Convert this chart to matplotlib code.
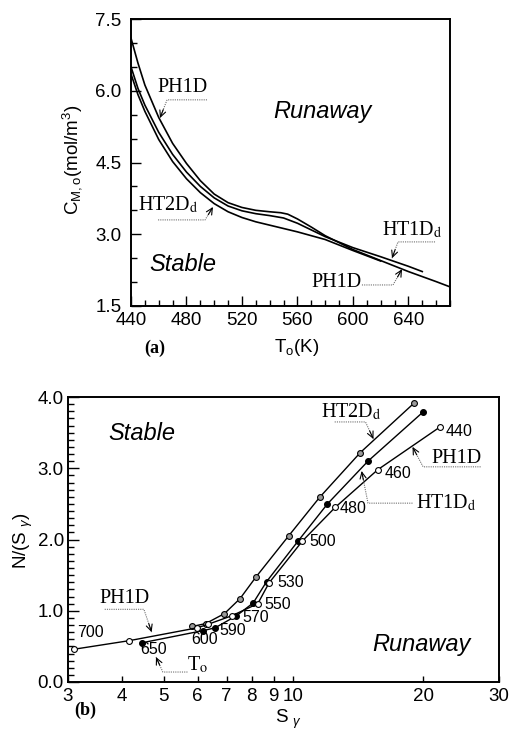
import numpy as np
import matplotlib
matplotlib.use("Agg")
import matplotlib.pyplot as plt
from matplotlib.ticker import MultipleLocator, FixedLocator, FixedFormatter, NullLocator

plt.rcParams["font.family"] = ["Liberation Sans", "DejaVu Sans"]
plt.rcParams["mathtext.fontset"] = "custom"
plt.rcParams["mathtext.rm"] = "Liberation Sans"
plt.rcParams["mathtext.it"] = "Liberation Sans:italic"
plt.rcParams["mathtext.bf"] = "Liberation Sans:bold"

# ---- (a) critical monomer feed concentration vs. inlet temperature ----
T_ph1d = [440, 445, 450, 460, 470, 480, 490, 500, 510, 520, 530, 540, 548, 553, 560, 570, 580,
          600, 620, 640, 660, 670]
C_ph1d = [7.10, 6.58, 6.12, 5.44, 4.90, 4.48, 4.12, 3.84, 3.66, 3.56, 3.50, 3.47, 3.45, 3.42,
          3.32, 3.15, 2.97, 2.68, 2.45, 2.22, 2.01, 1.90]

T_ht1d = [440, 445, 450, 460, 470, 480, 490, 500, 510, 520, 530, 540, 550, 560, 570, 580, 600,
          620, 640, 650]
C_ht1d = [6.50, 6.05, 5.70, 5.13, 4.67, 4.30, 4.00, 3.76, 3.59, 3.49, 3.43, 3.39, 3.34, 3.23,
          3.09, 2.95, 2.72, 2.53, 2.33, 2.22]

T_ht2d = [440, 445, 450, 460, 470, 480, 490, 500, 510, 520, 530, 540, 550, 560, 570, 580, 600, 620]
C_ht2d = [6.35, 5.92, 5.57, 4.98, 4.52, 4.16, 3.87, 3.64, 3.47, 3.35, 3.26, 3.19, 3.12, 3.05,
          2.97, 2.89, 2.66, 2.44]

# ---- (b) N/(S gamma) vs S gamma, points labelled by inlet temperature ----
To_ph1d = [440, 460, 480, 500, 530, 550, 570, 590, 600, 650, 700]
S_ph1d = [21.9, 15.7, 12.5, 10.5, 8.78, 8.27, 7.20, 6.34, 5.98, 4.16, 3.10]
N_ph1d = [3.58, 2.98, 2.45, 1.98, 1.39, 1.10, 0.93, 0.81, 0.76, 0.58, 0.46]

To_ht2d = [440, 460, 480, 500, 530, 550, 570, 590, 600]
S_ht2d = [19.1, 14.3, 11.5, 9.75, 8.18, 7.52, 6.92, 6.26, 5.83]
N_ht2d = [3.92, 3.22, 2.59, 2.05, 1.47, 1.17, 0.96, 0.82, 0.78]

To_ht1d = [440, 460, 480, 500, 530, 550, 570, 590, 600, 650]
S_ht1d = [20.0, 14.9, 12.0, 10.26, 8.67, 8.07, 7.38, 6.58, 6.16, 4.45]
N_ht1d = [3.79, 3.10, 2.50, 1.98, 1.41, 1.11, 0.93, 0.76, 0.72, 0.55]

# temperature tags written beside the curves in (b)
tag_text = ["440", "460", "480", "500", "530", "550", "570", "590", "600", "650", "700"]
tag_S = [22.6, 16.3, 12.8, 10.9, 9.18, 8.55, 7.60, 6.75, 5.80, 4.41, 3.15]
tag_N = [3.51, 2.92, 2.43, 1.97, 1.39, 1.09, 0.90, 0.72, 0.60, 0.46, 0.69]

fig = plt.figure(figsize=(5.11, 7.32), dpi=100)
axa = fig.add_axes([131 / 511, 1 - 306 / 732, 319 / 511, 287 / 732])
axb = fig.add_axes([68 / 511, 1 - 682 / 732, 431 / 511, 285 / 732])

SERIF = "Liberation Serif"
TICK_FS = 13.5
ITAL_FS = 17
SER_FS = 14.5


def callout(ax, text, text_xy, path, ha="center"):
    """Serif label with a dotted leader ending in a small open arrowhead."""
    ax.text(*text_xy, text, fontsize=SER_FS, family=SERIF, math_fontfamily="stix",
            ha=ha, va="center")
    xs = [p[0] for p in path]
    ys = [p[1] for p in path]
    ax.plot(xs, ys, color="#707070", lw=0.8, ls=(0, (1, 1)))
    tip = np.array(ax.transData.transform(path[-1]))
    prev = np.array(ax.transData.transform(path[-2]))
    d = prev - tip
    d = d / np.hypot(*d)
    start = ax.transData.inverted().transform(tip + d * 9)
    ax.annotate("", xy=path[-1], xytext=start,
                arrowprops=dict(arrowstyle="->,head_length=0.45,head_width=0.22",
                                lw=0.8, color="black", shrinkA=0, shrinkB=0))


def style_axes(ax):
    for s in ax.spines.values():
        s.set_linewidth(1.4)
    ax.tick_params(which="both", direction="in", top=False, right=False,
                   labelsize=TICK_FS, width=1.0)


# ---------------- panel (a) ----------------
axa.set_xlim(440, 670)
axa.set_ylim(1.5, 7.5)
style_axes(axa)
axa.xaxis.set_major_locator(MultipleLocator(40))
axa.xaxis.set_minor_locator(MultipleLocator(10))
axa.yaxis.set_major_locator(MultipleLocator(1.5))
axa.yaxis.set_minor_locator(MultipleLocator(0.5))
axa.yaxis.set_major_formatter(plt.FormatStrFormatter("%.1f"))
axa.tick_params(which="major", length=7)
axa.tick_params(which="minor", length=4)
axa.tick_params(axis="y", pad=7)
axa.tick_params(axis="x", pad=4)

for T, C in [(T_ph1d, C_ph1d), (T_ht1d, C_ht1d), (T_ht2d, C_ht2d)]:
    axa.plot(T, C, color="black", lw=1.2)

axa.text(578, 5.56, "Runaway", fontsize=ITAL_FS, style="italic", ha="center", va="center")
axa.text(477.5, 2.36, "Stable", fontsize=ITAL_FS, style="italic", ha="center", va="center")

callout(axa, "PH1D", (476.8, 6.06), [(494.8, 5.81), (466.0, 5.81), (460.9, 5.43)])
callout(axa, r"HT2D$_\mathrm{d}$", (445.0, 3.61), [(459.5, 3.30), (493.4, 3.30), (499.1, 3.57)],
        ha="left")
callout(axa, r"HT1D$_\mathrm{d}$", (643.0, 3.09), [(659.2, 2.84), (632.5, 2.84), (628.2, 2.50)])
callout(axa, "PH1D", (588.5, 2.00), [(606.5, 1.94), (628.9, 1.94), (635.4, 2.27)])

fig.text(297 / 511, 1 - 348 / 732, r"T$_\mathrm{o}$(K)", fontsize=TICK_FS, ha="center", va="center")
fig.text(72 / 511, 1 - 160 / 732, r"C$_\mathrm{M,o}$(mol/m$^\mathrm{3}$)", fontsize=TICK_FS,
         rotation=90, ha="center", va="center")
fig.text(155 / 511, 1 - 348 / 732, "(a)", fontsize=13, family=SERIF, weight="bold",
         ha="center", va="center")

# ---------------- panel (b) ----------------
axb.set_xscale("log")
axb.set_xlim(3, 30)
axb.set_ylim(0, 4)
style_axes(axb)
xt = [3, 4, 5, 6, 7, 8, 9, 10, 20, 30]
axb.xaxis.set_major_locator(FixedLocator(xt))
axb.xaxis.set_major_formatter(FixedFormatter([str(v) for v in xt]))
axb.xaxis.set_minor_locator(NullLocator())
axb.yaxis.set_major_locator(MultipleLocator(1.0))
axb.yaxis.set_minor_locator(MultipleLocator(0.1))
axb.yaxis.set_major_formatter(plt.FormatStrFormatter("%.1f"))
axb.tick_params(axis="y", which="major", length=8, pad=3)
axb.tick_params(axis="y", which="minor", length=4)
axb.tick_params(axis="x", which="major", length=4, pad=4)

mk = dict(marker="o", markersize=4.2, markeredgecolor="black", markeredgewidth=0.8,
          color="black", lw=1.0)
axb.plot(S_ht2d, N_ht2d, markerfacecolor="#9a9a9a", **mk)
axb.plot(S_ht1d, N_ht1d, markerfacecolor="black", **mk)
axb.plot(S_ph1d, N_ph1d, markerfacecolor="white", **mk)

for t, s, n in zip(tag_text, tag_S, tag_N):
    axb.text(s, n, t, fontsize=11.5, ha="left", va="center")

axb.text(4.45, 3.49, "Stable", fontsize=ITAL_FS, style="italic", ha="center", va="center")
axb.text(19.8, 0.52, "Runaway", fontsize=ITAL_FS, style="italic", ha="center", va="center")

callout(axb, r"HT2D$_\mathrm{d}$", (13.6, 3.79), [(12.47, 3.65), (14.7, 3.65), (15.34, 3.41)])
callout(axb, "PH1D", (23.9, 3.13), [(27.2, 3.02), (20.0, 3.02), (18.9, 3.30)])
callout(axb, r"HT1D$_\mathrm{d}$", (22.6, 2.51), [(18.9, 2.51), (14.9, 2.51), (14.4, 2.96)])
callout(axb, "PH1D", (4.05, 1.165), [(3.65, 1.02), (4.5, 1.02), (4.69, 0.70)])
callout(axb, r"T$_\mathrm{o}$", (5.98, 0.24), [(5.68, 0.14), (4.98, 0.14), (4.80, 0.35)])

fig.text(289 / 511, 1 - 719 / 732, r"S $_\gamma$", fontsize=TICK_FS, ha="center", va="center")
fig.text(23 / 511, 1 - 540 / 732, r"N/(S $_\gamma$)", fontsize=TICK_FS, rotation=90,
         ha="center", va="center")
fig.text(85 / 511, 1 - 710 / 732, "(b)", fontsize=13, family=SERIF, weight="bold",
         ha="center", va="center")

fig.savefig("out.png", dpi=100)
